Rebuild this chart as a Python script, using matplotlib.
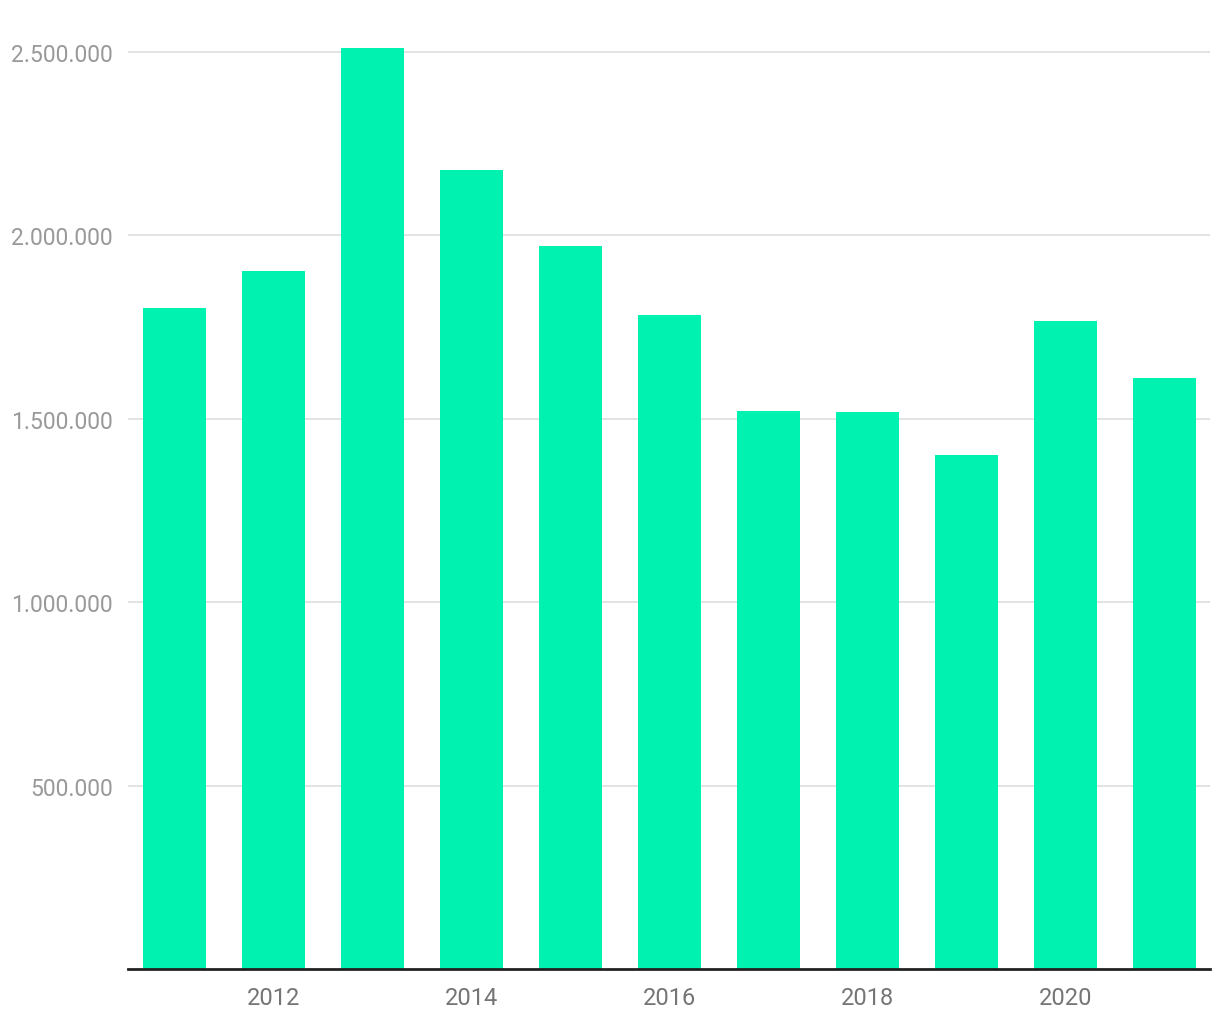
import matplotlib
matplotlib.use("Agg")
import matplotlib.pyplot as plt
from matplotlib.ticker import FuncFormatter

years = [2011, 2012, 2013, 2014, 2015, 2016, 2017, 2018, 2019, 2020, 2021]
values = [1802000, 1903000, 2511000, 2178000, 1971000, 1783000,
          1521000, 1519000, 1401000, 1767000, 1611000]
y_ticks = [500000, 1000000, 1500000, 2000000, 2500000]
x_ticks = [2012, 2014, 2016, 2018, 2020]

plt.rcParams['font.family'] = ['Roboto', 'DejaVu Sans']

fig = plt.figure(figsize=(12.2, 10.2), dpi=100)
ax = fig.add_axes([128 / 1220, 50 / 1020, 1082 / 1220, 950 / 1020])

ax.bar(years, values, width=0.64, color='#00F2B0', zorder=2)

ax.set_xlim(2010.53, 2021.46)
ax.set_ylim(0, 2590000)
ax.set_yticks(y_ticks)
ax.set_xticks(x_ticks)
ax.yaxis.set_major_formatter(FuncFormatter(lambda v, p: f"{int(v):,}".replace(",", ".")))

ax.grid(axis='y', color='#e0e0e0', linewidth=1.3, zorder=0)
ax.tick_params(axis='both', length=0)
ax.tick_params(axis='y', colors='#999999', pad=11, labelsize=16.5)
ax.tick_params(axis='x', colors='#757575', pad=12, labelsize=17)

for s in ['top', 'right', 'left']:
    ax.spines[s].set_visible(False)
ax.spines['bottom'].set_color('#222222')
ax.spines['bottom'].set_linewidth(2)
ax.spines['bottom'].set_zorder(3)

fig.savefig("out.png", dpi=100)
